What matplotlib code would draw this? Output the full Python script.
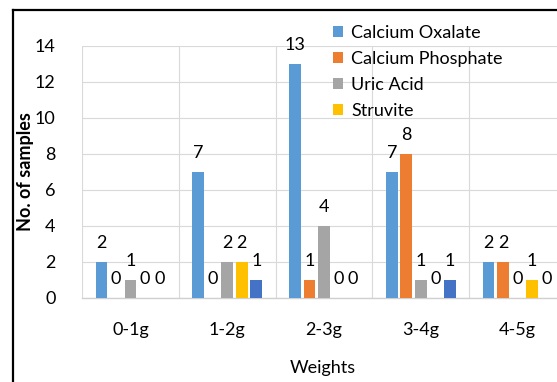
import matplotlib
matplotlib.use("Agg")
import matplotlib.pyplot as plt
from matplotlib.lines import Line2D
from matplotlib.patches import Patch

categories = ["0-1g", "1-2g", "2-3g", "3-4g", "4-5g"]
series_names = ["Calcium Oxalate", "Calcium Phosphate", "Uric Acid", "Struvite", "Mixed"]
calcium_oxalate = [2, 7, 13, 7, 2]
calcium_phosphate = [0, 0, 1, 8, 2]
uric_acid = [1, 2, 4, 1, 0]
struvite = [0, 2, 0, 0, 1]
mixed = [0, 1, 0, 1, 0]
yticks = [0, 2, 4, 6, 8, 10, 12, 14]

colors = ["#5B9BD5", "#ED7D31", "#A5A5A5", "#FFC000", "#4472C4"]
series = [calcium_oxalate, calcium_phosphate, uric_acid, struvite, mixed]

plt.rcParams['font.family'] = ['Lato', 'DejaVu Sans']
FS = 13

W, H = 557, 382
fig = plt.figure(figsize=(W / 100, H / 100), dpi=100)
L, R, T, B = 82, 566, 46, 298
ax = fig.add_axes([L / W, 1 - B / H, (R - L) / W, (B - T) / H])

pitch = 0.15
bw = 0.12
x = list(range(len(categories)))
for i, (vals, c) in enumerate(zip(series, colors)):
    off = (i - 2) * pitch
    xs = [xi + off for xi in x]
    ax.bar(xs, vals, width=bw, color=c, zorder=3)
    for xx, v in zip(xs, vals):
        ax.annotate(str(v), (xx, v), xytext=(0, 19), textcoords='offset pixels',
                    ha='center', va='center', fontsize=FS, color='#000000', zorder=4)

ax.set_xlim(-0.5, len(categories) - 0.5)
ax.set_ylim(0, 14)
ax.set_yticks(yticks)
ax.set_xticks(x)
ax.set_xticklabels(categories)
ax.tick_params(axis='both', length=0, labelsize=FS)
ax.tick_params(axis='y', pad=19)
ax.tick_params(axis='x', pad=17)
for s in ['top', 'right', 'left']:
    ax.spines[s].set_visible(False)
ax.spines['bottom'].set_color('#D0D0D0')
ax.spines['bottom'].set_linewidth(1.0)
ax.set_axisbelow(True)
ax.grid(axis='y', color='#D9D9D9', linewidth=0.8)
for b in [i - 0.5 for i in range(len(categories) + 1)]:
    ax.axvline(b, color='#D9D9D9', linewidth=0.8, zorder=0)

fig.text(323 / W, 1 - 368 / H, "Weights", ha='center', va='center', fontsize=FS)
fig.text(26 / W, 1 - 172 / H, "No. of samples", ha='center', va='center',
         rotation=90, fontsize=FS, fontweight='bold')

handles = [Patch(facecolor=c) for c in colors[:4]]
fig.legend(handles, series_names[:4], loc='upper left',
           bbox_to_anchor=(333 / W, 1 - 25 / H), frameon=False, fontsize=FS,
           handlelength=0.55, handleheight=0.55, handletextpad=0.45,
           labelspacing=0.55, borderpad=0, borderaxespad=0)

fig.add_artist(Line2D([13 / W, 13 / W], [0, 1 - 10 / H], color='black', linewidth=1.6,
                      transform=fig.transFigure))
fig.add_artist(Line2D([12.5 / W, 1], [1 - 10 / H, 1 - 10 / H], color='black', linewidth=1.6,
                      transform=fig.transFigure))

fig.savefig("out.png", dpi=100)
